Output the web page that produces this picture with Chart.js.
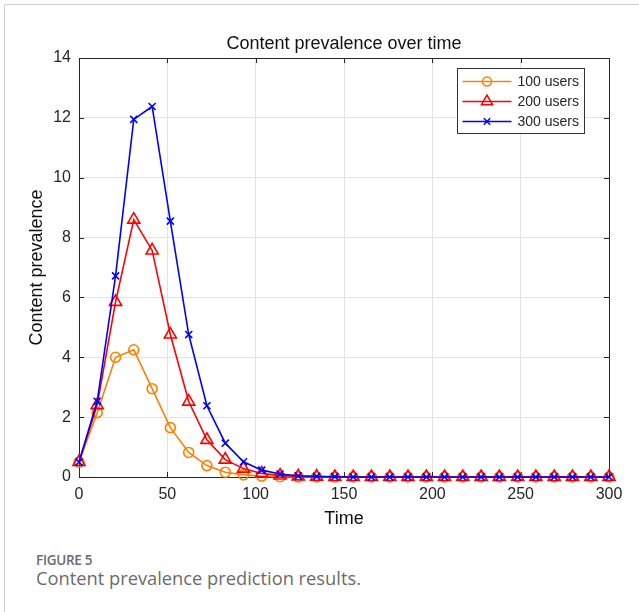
<!DOCTYPE html>
<html>
<head>
<meta charset="utf-8">
<title>Content prevalence over time</title>
<script src="https://cdn.jsdelivr.net/npm/chart.js@4.4.1/dist/chart.umd.min.js"></script>
<style>
    body { margin: 0; background: #fff; }
    #page {
        position: relative;
        width: 639px;
        height: 612px;
        overflow: hidden;
    }
    #frame {
        position: absolute;
        left: 4px;
        top: 4px;
        width: 700px;
        height: 700px;
        border-left: 1px solid #cfcfcf;
        border-top: 1px solid #cfcfcf;
    }
    #chart { position: absolute; left: 0; top: 0; }
    .caption {
        position: absolute;
        left: 36px;
        font-family: "Open Sans", "Noto Sans", sans-serif;
        color: #6b6b6b;
        white-space: nowrap;
    }
    #fig-label { top: 551px; font-size: 13.5px; font-weight: 600; letter-spacing: -0.3px; }
    #fig-text { top: 565px; font-size: 18.3px; }
</style>
</head>
<body>
<div id="page">
    <div id="frame"></div>
    <canvas id="chart" width="639" height="540"></canvas>
    <div class="caption" id="fig-label">FIGURE 5</div>
    <div class="caption" id="fig-text">Content prevalence prediction results.</div>
</div>

<script>
// --- ДАННЫЕ ---

const timeSteps = [
    0, 10.3, 20.7, 31.0, 41.4, 51.7, 62.1, 72.4, 82.8, 93.1,
    103.4, 113.8, 124.1, 134.5, 144.8, 155.2, 165.5, 175.9, 186.2, 196.6,
    206.9, 217.2, 227.6, 237.9, 248.3, 258.6, 269.0, 279.3, 289.7, 300
];

const users100 = [
    0.5, 2.15, 4.0, 4.25, 2.95, 1.65, 0.82, 0.38, 0.16, 0.07,
    0.03, 0.01, 0, 0, 0, 0, 0, 0, 0, 0,
    0, 0, 0, 0, 0, 0, 0, 0, 0, 0
];

const users200 = [
    0.5, 2.4, 5.85, 8.6, 7.57, 4.76, 2.52, 1.24, 0.58, 0.28,
    0.12, 0.05, 0.02, 0.01, 0, 0, 0, 0, 0, 0,
    0, 0, 0, 0, 0, 0, 0, 0, 0, 0
];

const users300 = [
    0.5, 2.53, 6.72, 11.95, 12.38, 8.55, 4.76, 2.38, 1.13, 0.51,
    0.23, 0.1, 0.04, 0.02, 0.01, 0, 0, 0, 0, 0,
    0, 0, 0, 0, 0, 0, 0, 0, 0, 0
];

const seriesNames = ['100 users', '200 users', '300 users'];
const xTickValues = [0, 50, 100, 150, 200, 250, 300];
const yTickValues = [0, 2, 4, 6, 8, 10, 12, 14];

const AXIS_COLOR = '#262626';
const FONT = '"Liberation Sans", Arial, sans-serif';

function toPoints(values) {
    return values.map((v, i) => ({ x: timeSteps[i], y: v }));
}

// Рамка осей и внутренние засечки, как в MATLAB
const axesBoxPlugin = {
    id: 'axesBox',
    beforeDatasetsDraw(chart) {
        const { ctx, chartArea: a, scales } = chart;
        const len = 5;
        ctx.save();
        ctx.strokeStyle = AXIS_COLOR;
        ctx.lineWidth = 1;
        ctx.beginPath();
        xTickValues.forEach(v => {
            const px = Math.round(scales.x.getPixelForValue(v)) + 0.5;
            ctx.moveTo(px, a.bottom); ctx.lineTo(px, a.bottom - len);
            ctx.moveTo(px, a.top); ctx.lineTo(px, a.top + len);
        });
        yTickValues.forEach(v => {
            const py = Math.round(scales.y.getPixelForValue(v)) + 0.5;
            ctx.moveTo(a.left, py); ctx.lineTo(a.left + len, py);
            ctx.moveTo(a.right, py); ctx.lineTo(a.right - len, py);
        });
        ctx.stroke();
        ctx.strokeRect(Math.round(a.left) + 0.5, Math.round(a.top) + 0.5,
            Math.round(a.right - a.left), Math.round(a.bottom - a.top));
        ctx.restore();
    }
};

// Легенда: линия с маркером в рамке, в правом верхнем углу
const matlabLegendPlugin = {
    id: 'matlabLegend',
    afterDatasetsDraw(chart) {
        const { ctx, chartArea: a } = chart;
        const boxW = 127, boxH = 65;
        const bx = Math.round(a.right - 25 - boxW) + 0.5;
        const by = Math.round(a.top + 10) + 0.5;
        ctx.save();
        ctx.fillStyle = '#fff';
        ctx.fillRect(bx, by, boxW, boxH);
        ctx.strokeStyle = '#333';
        ctx.lineWidth = 1;
        ctx.strokeRect(bx, by, boxW, boxH);

        ctx.font = '14px ' + FONT;
        ctx.textBaseline = 'middle';
        chart.data.datasets.forEach((ds, i) => {
            const y = by + 13 + i * 20;
            ctx.strokeStyle = ds.borderColor;
            ctx.lineWidth = 1.5;
            ctx.beginPath();
            ctx.moveTo(bx + 5, y);
            ctx.lineTo(bx + 54, y);
            ctx.stroke();
            ctx.fillStyle = 'rgba(0,0,0,0)';
            Chart.helpers.drawPoint(ctx, {
                pointStyle: ds.pointStyle,
                radius: ds.pointRadius - 0.5,
                borderWidth: 1.5,
                rotation: 0
            }, bx + 29.5, y);
            ctx.fillStyle = AXIS_COLOR;
            ctx.fillText(ds.label, bx + 60, y + 1);
        });
        ctx.restore();
    }
};

const ctx = document.getElementById('chart').getContext('2d');

new Chart(ctx, {
    type: 'line',
    data: {
        datasets: [
            {
                label: seriesNames[0],
                data: toPoints(users100),
                borderColor: '#ff8000',
                pointStyle: 'circle',
                pointRadius: 5,
                order: 2
            },
            {
                label: seriesNames[1],
                data: toPoints(users200),
                borderColor: '#ff0000',
                pointStyle: 'triangle',
                pointRadius: 7,
                order: 1
            },
            {
                label: seriesNames[2],
                data: toPoints(users300),
                borderColor: '#0000ff',
                pointStyle: 'crossRot',
                pointRadius: 5,
                order: 0
            }
        ].map(ds => Object.assign(ds, {
            borderWidth: 1.6,
            pointBorderColor: ds.borderColor,
            pointBackgroundColor: 'rgba(0,0,0,0)',
            pointBorderWidth: 1.6,
            pointHoverRadius: ds.pointRadius,
            tension: 0,
            fill: false,
            clip: false
        }))
    },
    options: {
        responsive: false,
        animation: false,
        layout: { padding: { left: 0, right: 30, top: 0, bottom: 0 } },
        plugins: {
            legend: { display: false },
            tooltip: { enabled: false },
            title: {
                display: true,
                fullSize: false,
                text: 'Content prevalence over time',
                color: '#111',
                font: { family: FONT, size: 18, weight: 'normal', lineHeight: 1.2 },
                padding: { top: 33, bottom: 3.4 }
            }
        },
        scales: {
            x: {
                type: 'linear',
                min: 0,
                max: 300,
                afterFit(scale) { scale.height = 63; },
                afterBuildTicks(scale) { scale.ticks = xTickValues.map(v => ({ value: v })); },
                grid: { color: '#e3e3e3', drawTicks: false },
                border: { display: false },
                ticks: {
                    color: AXIS_COLOR,
                    font: { family: FONT, size: 16 },
                    padding: 8,
                    maxRotation: 0
                },
                title: {
                    display: true,
                    text: 'Time',
                    color: '#111',
                    font: { family: FONT, size: 18, lineHeight: 1.2 },
                    padding: { top: 0, bottom: 10 }
                }
            },
            y: {
                type: 'linear',
                min: 0,
                max: 14,
                afterFit(scale) { scale.width = 79; },
                afterBuildTicks(scale) { scale.ticks = yTickValues.map(v => ({ value: v })); },
                grid: { color: '#e3e3e3', drawTicks: false },
                border: { display: false },
                ticks: {
                    color: AXIS_COLOR,
                    font: { family: FONT, size: 16 },
                    padding: 8
                },
                title: {
                    display: true,
                    text: 'Content prevalence',
                    color: '#111',
                    font: { family: FONT, size: 18, lineHeight: 1.2 },
                    padding: { top: 26, bottom: 0 }
                }
            }
        }
    },
    plugins: [axesBoxPlugin, matlabLegendPlugin]
});
</script>
</body>
</html>
